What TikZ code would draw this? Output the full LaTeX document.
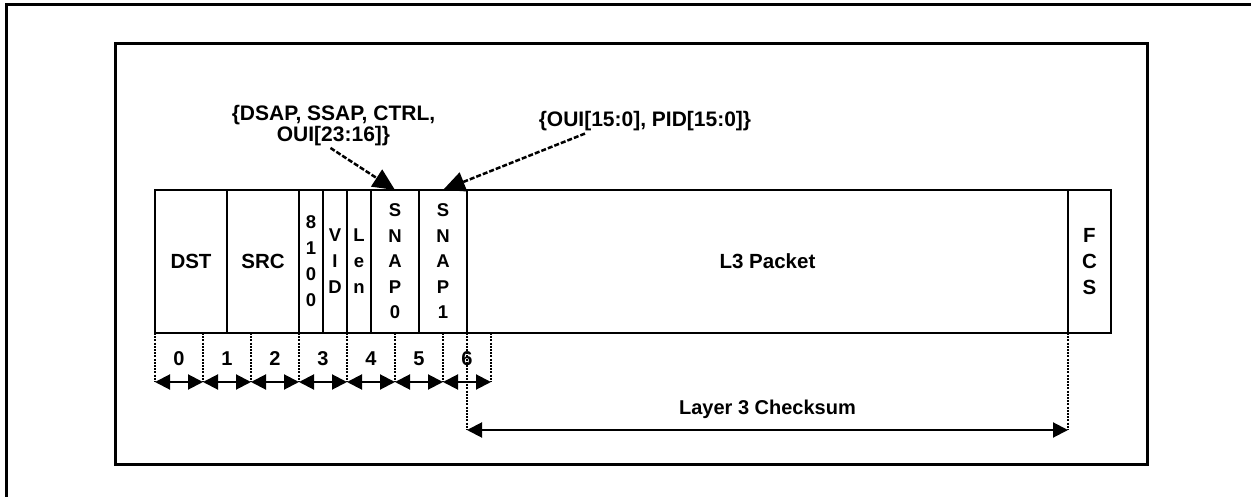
\documentclass[tikz,border=0pt]{standalone}
\usepackage{fontspec}
\setmainfont{Liberation Sans}
\usetikzlibrary{arrows.meta,positioning,calc}

\tikzset{
  field/.style={draw, line width=2pt, minimum height=143pt, inner sep=0pt, outer sep=0pt,
    align=center, font=\fontsize{20.5}{26}\selectfont\bfseries},
  narrow/.style={field, minimum width=24pt, font=\fontsize{18.5}{26}\selectfont\bfseries},
  snapbox/.style={field, minimum width=48pt, font=\fontsize{18.5}{25.5}\selectfont\bfseries},
  tick/.style={line width=2pt, dash pattern=on 2pt off 1.2pt},
  span/.style={line width=2pt, {Triangle[length=15pt,width=15pt]}-{Triangle[length=15pt,width=15pt]}},
  pointer/.style={line width=2.5pt, dash pattern=on 5pt off 2pt, -{Triangle[length=22pt,width=20pt]}},
  lbl/.style={font=\fontsize{21}{21}\selectfont\bfseries, align=center, inner sep=0pt},
  num/.style={font=\fontsize{20}{24}\selectfont\bfseries, inner sep=0pt, anchor=base},
}

\begin{document}
\begin{tikzpicture}[x=1pt, y=-1pt]
  \useasboundingbox (0,0) rectangle (1251,497);

  % frames
  \draw[line width=3pt] (1251,5) -- (6,5) -- (6,497);
  \draw[line width=3pt] (115,44) rectangle (1147,464);

  % packet fields
  \node[field, minimum width=72pt, anchor=north west] (dst) at (155,190) {DST};
  \node[field, minimum width=72pt, right=0pt of dst] (src) {SRC};
  \node[narrow, right=0pt of src] (tpid) {8\\1\\0\\0};
  \node[narrow, right=0pt of tpid] (vid) {V\\I\\D};
  \node[narrow, right=0pt of vid] (len) {L\\e\\n};
  \node[snapbox, right=0pt of len] (snap0) {S\\N\\A\\P\\0};
  \node[snapbox, right=0pt of snap0] (snap1) {S\\N\\A\\P\\1};
  \node[field, minimum width=601pt, right=0pt of snap1] (l3) {L3 Packet};
  \node[field, minimum width=43pt, right=0pt of l3] (fcs) {F\\C\\S};

  % SNAP callouts
  \node[lbl] (llc) at (333.5,125.5) {\{DSAP, SSAP, CTRL,\\OUI[23:16]\}};
  \node[lbl, anchor=base] (snapid) at (645,127) {\{OUI[15:0], PID[15:0]\}};
  \draw[pointer] ($(llc.south)+(-3,2)$) -- (snap0.north);
  \draw[pointer] ($(snapid.south)+(-60,2)$) -- (snap1.north);

  % byte offsets
  \foreach \i in {0,...,7}{
    \coordinate (b\i) at ($(dst.south west)+(48*\i,0)$);
    \coordinate (e\i) at ($(b\i)+(0,49)$);
    \draw[tick] (b\i) -- (e\i);
  }
  \foreach \i [count=\j from 1] in {0,...,6}{
    \draw[span] (e\i) -- (e\j);
    \node[num] (n\i) at ($(e\i)!0.5!(e\j)+(0,-17)$) {\i};
  }

  % checksum span
  \coordinate (ckl) at ($(l3.south west)+(0,97)$);
  \coordinate (ckr) at ($(fcs.south west)+(0,97)$);
  \draw[tick] (l3.south west) -- (ckl);
  \draw[tick] (fcs.south west) -- (ckr);
  \draw[span] (ckl) -- (ckr);
  \node[lbl, anchor=base, font=\fontsize{20}{24}\selectfont\bfseries] (cksum)
    at ($(ckl)!0.5!(ckr)+(0,-16)$) {Layer 3 Checksum};
\end{tikzpicture}
\end{document}
